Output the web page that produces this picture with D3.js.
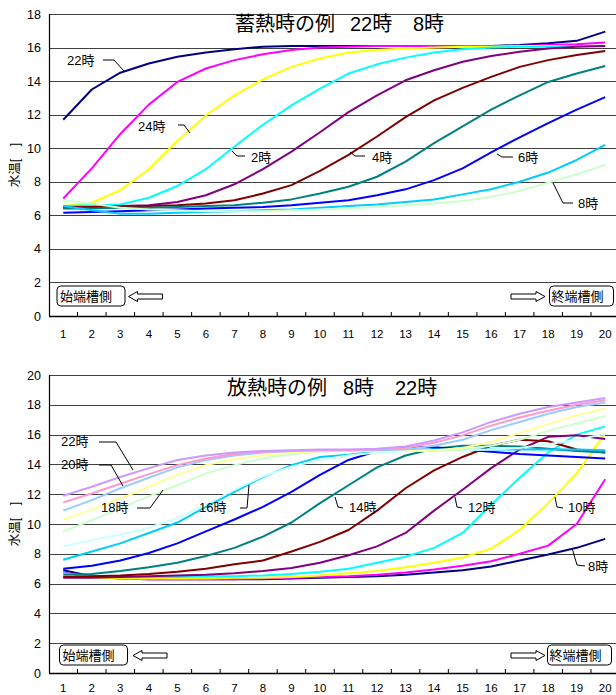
<!DOCTYPE html>
<html><head><meta charset="utf-8">
<script src="https://cdn.jsdelivr.net/npm/d3@7"></script>
<style>
body{margin:0;background:#fff;}
text{font-family:"Liberation Sans","Noto Sans CJK JP",sans-serif;}
</style></head>
<body><svg id="c" width="616" height="695"></svg>
<script>
const categories = [1,2,3,4,5,6,7,8,9,10,11,12,13,14,15,16,17,18,19,20];

// 蓄熱時 (charging) series
const chargeNames  = ["22時","23時","24時","1時","2時","3時","4時","5時","6時","8時"];
const chargeColors = ["#000080","#FF00FF","#FFFF00","#00FFFF","#800080","#800000","#008080","#0000FF","#00CCFF","#CCFFCC"];
const charge22 = [11.7,13.5,14.5,15.05,15.45,15.7,15.9,16.05,16.1,16.1,16.1,16.1,16.1,16.1,16.1,16.1,16.15,16.25,16.4,16.95];
const charge23 = [7.0,8.8,10.85,12.6,13.95,14.75,15.25,15.6,15.85,16.0,16.05,16.1,16.1,16.1,16.1,16.1,16.1,16.15,16.2,16.3];
const charge24 = [6.55,6.75,7.5,8.75,10.45,11.95,13.15,14.1,14.85,15.35,15.7,15.85,15.95,16.0,16.05,16.05,16.1,16.1,16.1,16.1];
const charge1  = [6.55,6.6,6.65,7.05,7.75,8.75,10.1,11.4,12.55,13.55,14.45,15.0,15.4,15.7,15.9,16.0,16.05,16.05,16.1,16.1];
const charge2  = [6.5,6.5,6.55,6.6,6.8,7.2,7.85,8.75,9.8,10.95,12.15,13.15,14.05,14.65,15.15,15.5,15.75,15.95,16.05,16.1];
const charge3  = [6.45,6.5,6.5,6.55,6.6,6.7,6.9,7.3,7.8,8.65,9.6,10.7,11.85,12.85,13.6,14.25,14.85,15.25,15.55,15.8];
const charge4  = [6.4,6.4,6.45,6.45,6.5,6.55,6.6,6.75,6.95,7.3,7.7,8.3,9.2,10.3,11.3,12.3,13.15,13.95,14.45,14.9];
const charge5  = [6.15,6.2,6.25,6.3,6.35,6.4,6.45,6.5,6.6,6.75,6.9,7.2,7.55,8.1,8.8,9.75,10.65,11.5,12.3,13.05];
const charge6  = [6.55,6.3,6.1,6.1,6.15,6.2,6.25,6.3,6.35,6.45,6.55,6.65,6.8,6.95,7.25,7.55,8.0,8.55,9.3,10.2];
const charge8  = [6.9,6.7,6.45,6.35,6.3,6.25,6.25,6.25,6.3,6.35,6.4,6.5,6.6,6.7,6.85,7.1,7.45,7.95,8.45,9.0];
const chargeSeries = [charge22,charge23,charge24,charge1,charge2,charge3,charge4,charge5,charge6,charge8];

// 放熱時 (discharging) series
const dischargeNames  = ["8時","9時","10時","11時","12時","13時","14時","15時","16時","17時","18時","19時","20時","21時","22時"];
const dischargeColors = ["#000080","#FF00FF","#FFFF00","#00FFFF","#800080","#800000","#008080","#0000FF","#00CCFF","#CCFFFF","#CCFFCC","#FFFF99","#99CCFF","#FF99CC","#CC99FF"];
const dis8  = [6.9,6.5,6.35,6.3,6.3,6.3,6.3,6.3,6.35,6.4,6.45,6.5,6.6,6.75,6.9,7.15,7.55,7.95,8.4,9.0];
const dis9  = [6.75,6.45,6.35,6.3,6.3,6.3,6.3,6.35,6.4,6.45,6.5,6.6,6.75,6.95,7.2,7.5,8.0,8.55,10.0,13.0];
const dis10 = [6.45,6.4,6.35,6.35,6.35,6.35,6.4,6.4,6.45,6.55,6.7,6.85,7.1,7.4,7.75,8.35,9.6,11.4,13.4,16.1];
const dis11 = [6.7,6.5,6.45,6.45,6.45,6.5,6.5,6.55,6.65,6.8,7.0,7.4,7.8,8.4,9.4,11.3,13.1,14.8,16.0,16.55];
const dis12 = [6.4,6.4,6.45,6.5,6.55,6.6,6.7,6.85,7.05,7.4,7.9,8.5,9.4,10.9,12.3,13.75,15.0,15.85,15.95,15.7];
const dis13 = [6.45,6.5,6.55,6.65,6.8,7.0,7.3,7.55,8.15,8.8,9.6,10.9,12.4,13.6,14.5,15.25,15.65,15.55,15.0,14.8];
const dis14 = [6.6,6.65,6.85,7.1,7.4,7.85,8.4,9.15,10.1,11.4,12.6,13.8,14.6,15.05,15.25,15.25,15.2,15.05,14.9,14.8];
const dis15 = [7.0,7.2,7.55,8.05,8.7,9.5,10.3,11.15,12.15,13.3,14.3,14.9,15.15,15.15,15.0,14.85,14.7,14.6,14.5,14.4];
const dis16 = [7.6,8.15,8.7,9.4,10.1,11.15,12.15,13.15,13.95,14.5,14.65,14.85,14.95,15.0,15.0,15.0,15.0,15.0,15.0,14.95];
const dis17 = [8.5,8.9,9.3,9.75,10.4,11.3,12.3,13.2,13.85,14.3,14.6,14.8,14.9,14.95,14.95,15.0,15.1,15.35,15.65,16.05];
const dis18 = [9.5,10.25,11.05,11.85,12.6,13.4,13.95,14.4,14.7,14.85,14.9,14.9,14.9,14.9,15.0,15.25,15.65,16.25,16.75,17.25];
const dis19 = [10.3,10.95,11.7,12.5,13.3,13.95,14.35,14.6,14.8,14.9,14.9,14.9,14.9,14.95,15.1,15.5,16.1,16.7,17.3,17.75];
const dis20 = [10.9,11.6,12.4,13.1,13.8,14.3,14.6,14.8,14.9,14.95,14.95,14.95,15.0,15.25,15.65,16.3,16.85,17.4,17.85,18.15];
const dis21 = [11.45,12.05,12.7,13.35,13.95,14.4,14.7,14.85,14.9,14.95,14.95,15.0,15.1,15.45,15.95,16.6,17.15,17.6,18.0,18.3];
const dis22 = [11.9,12.5,13.15,13.75,14.3,14.6,14.8,14.9,14.95,15.0,15.0,15.05,15.2,15.6,16.15,16.85,17.4,17.85,18.15,18.45];
const dischargeSeries = [dis8,dis9,dis10,dis11,dis12,dis13,dis14,dis15,dis16,dis17,dis18,dis19,dis20,dis21,dis22];

const chargeTicks = [0,2,4,6,8,10,12,14,16,18];
const dischargeTicks = [0,2,4,6,8,10,12,14,16,18,20];

const yTitle = "水温[　]";
const startLabel = "始端槽側";
const endLabel = "終端槽側";

const svg = d3.select("#c");
svg.append("rect").attr("width",616).attr("height",695).attr("fill","#fff");

function drawChart(cfg){
  const g = svg.append("g");
  const x = d3.scalePoint().domain(categories).range([cfg.left, cfg.right]).padding(0.5);
  const y = d3.scaleLinear().domain([0, cfg.max]).range([cfg.bottom, cfg.top]);
  const step = x.step();

  // gridlines
  g.append("g").selectAll("line").data(cfg.ticks.filter(t=>t>0)).join("line")
    .attr("x1",cfg.left).attr("x2",cfg.right)
    .attr("y1",d=>Math.round(y(d))+0.5).attr("y2",d=>Math.round(y(d))+0.5)
    .attr("stroke","#404040").attr("stroke-width",1);

  // y tick labels
  g.append("g").selectAll("text").data(cfg.ticks).join("text")
    .attr("x",cfg.left-8).attr("y",d=>y(d)+4.5)
    .attr("text-anchor","end").attr("font-size",12.5).attr("fill","#000").text(d=>d);

  // axes
  g.append("line").attr("x1",cfg.left+0.5).attr("x2",cfg.left+0.5)
    .attr("y1",y(cfg.max)).attr("y2",cfg.bottom+0.5).attr("stroke","#000").attr("stroke-width",1.2);
  g.append("line").attr("x1",cfg.left).attr("x2",cfg.right)
    .attr("y1",cfg.bottom+0.5).attr("y2",cfg.bottom+0.5).attr("stroke","#000").attr("stroke-width",1.4);
  // category boundary ticks (inside)
  g.append("g").selectAll("line").data(categories.slice(1)).join("line")
    .attr("x1",d=>x(d)-step/2).attr("x2",d=>x(d)-step/2)
    .attr("y1",cfg.bottom-4).attr("y2",cfg.bottom)
    .attr("stroke","#000").attr("stroke-width",1);
  // x tick labels
  g.append("g").selectAll("text").data(categories).join("text")
    .attr("x",d=>x(d)).attr("y",cfg.xLabelY).attr("text-anchor","middle")
    .attr("font-size",11.5).attr("fill","#000").text(d=>d);

  // series
  const line = d3.line().x((d,i)=>x(categories[i])).y(d=>y(d));
  g.append("g").selectAll("path").data(cfg.series).join("path")
    .attr("d",d=>line(d)).attr("fill","none")
    .attr("stroke",(d,i)=>cfg.colors[i]).attr("stroke-width",2)
    .attr("stroke-linejoin","round");

  // title
  cfg.title.forEach(t=>{
    g.append("text").attr("x",t[1]).attr("y",cfg.titleY).attr("font-size",20).attr("fill","#000").text(t[0]);
  });

  // y title
  g.append("text").attr("transform",`translate(19,${(cfg.top+cfg.bottom)/2}) rotate(-90)`)
    .attr("text-anchor","middle").attr("font-size",12.5).attr("fill","#000").text(yTitle);

  // annotations
  cfg.labels.forEach(l=>{
    g.append("text").attr("x",l.tx).attr("y",l.ty).attr("font-size",13).attr("fill","#000").text(l.text);
    g.append("path").attr("d",d3.line()(l.pts)).attr("fill","none").attr("stroke","#000").attr("stroke-width",1);
  });

  // boxes and arrows
  const by = cfg.boxY;
  g.append("rect").attr("x",cfg.box1x).attr("y",by).attr("width",68).attr("height",20)
    .attr("rx",4).attr("fill","#fff").attr("stroke","#000").attr("stroke-width",1);
  g.append("text").attr("x",cfg.box1x+3).attr("y",by+15).attr("font-size",13).text(startLabel);
  g.append("rect").attr("x",cfg.box2x).attr("y",by).attr("width",64).attr("height",20)
    .attr("rx",4).attr("fill","#fff").attr("stroke","#000").attr("stroke-width",1);
  g.append("text").attr("x",cfg.box2x+2).attr("y",by+15).attr("font-size",13).text(endLabel);

  const ay = by+10.5;
  const a1 = cfg.arrow1x; // tip x of left arrow
  g.append("path").attr("d",
    `M${a1},${ay} L${a1+9},${ay-5} L${a1+9},${ay-2.5} L${a1+34},${ay-2.5} L${a1+34},${ay+2.5} L${a1+9},${ay+2.5} L${a1+9},${ay+5} Z`)
    .attr("fill","#fff").attr("stroke","#000").attr("stroke-width",1);
  const a2 = cfg.arrow2x; // tip x of right arrow
  g.append("path").attr("d",
    `M${a2},${ay} L${a2-9},${ay-5} L${a2-9},${ay-2.5} L${a2-34},${ay-2.5} L${a2-34},${ay+2.5} L${a2-9},${ay+2.5} L${a2-9},${ay+5} Z`)
    .attr("fill","#fff").attr("stroke","#000").attr("stroke-width",1);
}

drawChart({
  left:49, right:619.5, top:14, bottom:316, max:18, ticks:chargeTicks,
  series:chargeSeries, colors:chargeColors, xLabelY:338, titleY:31,
  title:[["蓄熱時の例",235],["22時",350],["8時",413]],
  boxY:286, box1x:57, box2x:549.5, arrow1x:128.5, arrow2x:545,
  labels:[
    {text:"22時", tx:67, ty:65, pts:[[103,60],[114,60],[124,71]]},
    {text:"24時", tx:138, ty:131, pts:[[178,125],[184,125],[190,133]]},
    {text:"2時", tx:251, ty:162, pts:[[232,151],[237,156],[245,156]]},
    {text:"4時", tx:372, ty:162, pts:[[350,152],[355,156],[365,156]]},
    {text:"6時", tx:518, ty:162, pts:[[497,154],[502,157],[513,157]]},
    {text:"8時", tx:578, ty:208, pts:[[553,183],[563,203],[573,203]]}
  ]
});

drawChart({
  left:49, right:619.5, top:375, bottom:673, max:20, ticks:dischargeTicks,
  series:dischargeSeries, colors:dischargeColors, xLabelY:692, titleY:395,
  title:[["放熱時の例",227],["8時",343],["22時",395]],
  boxY:645, box1x:59.5, box2x:547.5, arrow1x:133, arrow2x:545,
  labels:[
    {text:"22時", tx:61, ty:446, pts:[[99,442],[116,442],[133,470]]},
    {text:"20時", tx:61, ty:469, pts:[[99,465],[111,465],[123,486]]},
    {text:"18時", tx:101, ty:512, pts:[[137,508],[150,508],[163,490]]},
    {text:"16時", tx:199, ty:512, pts:[[240,508],[247,508],[249,485]]},
    {text:"14時", tx:349, ty:512, pts:[[335,497],[338,507],[343,508]]},
    {text:"12時", tx:468, ty:512, pts:[[455,497],[457,507],[462,508]]},
    {text:"10時", tx:568, ty:512, pts:[[555,497],[557,507],[563,508]]},
    {text:"8時", tx:588, ty:571, pts:[[572,548],[577,565],[585,566]]}
  ]
});
</script></body></html>
